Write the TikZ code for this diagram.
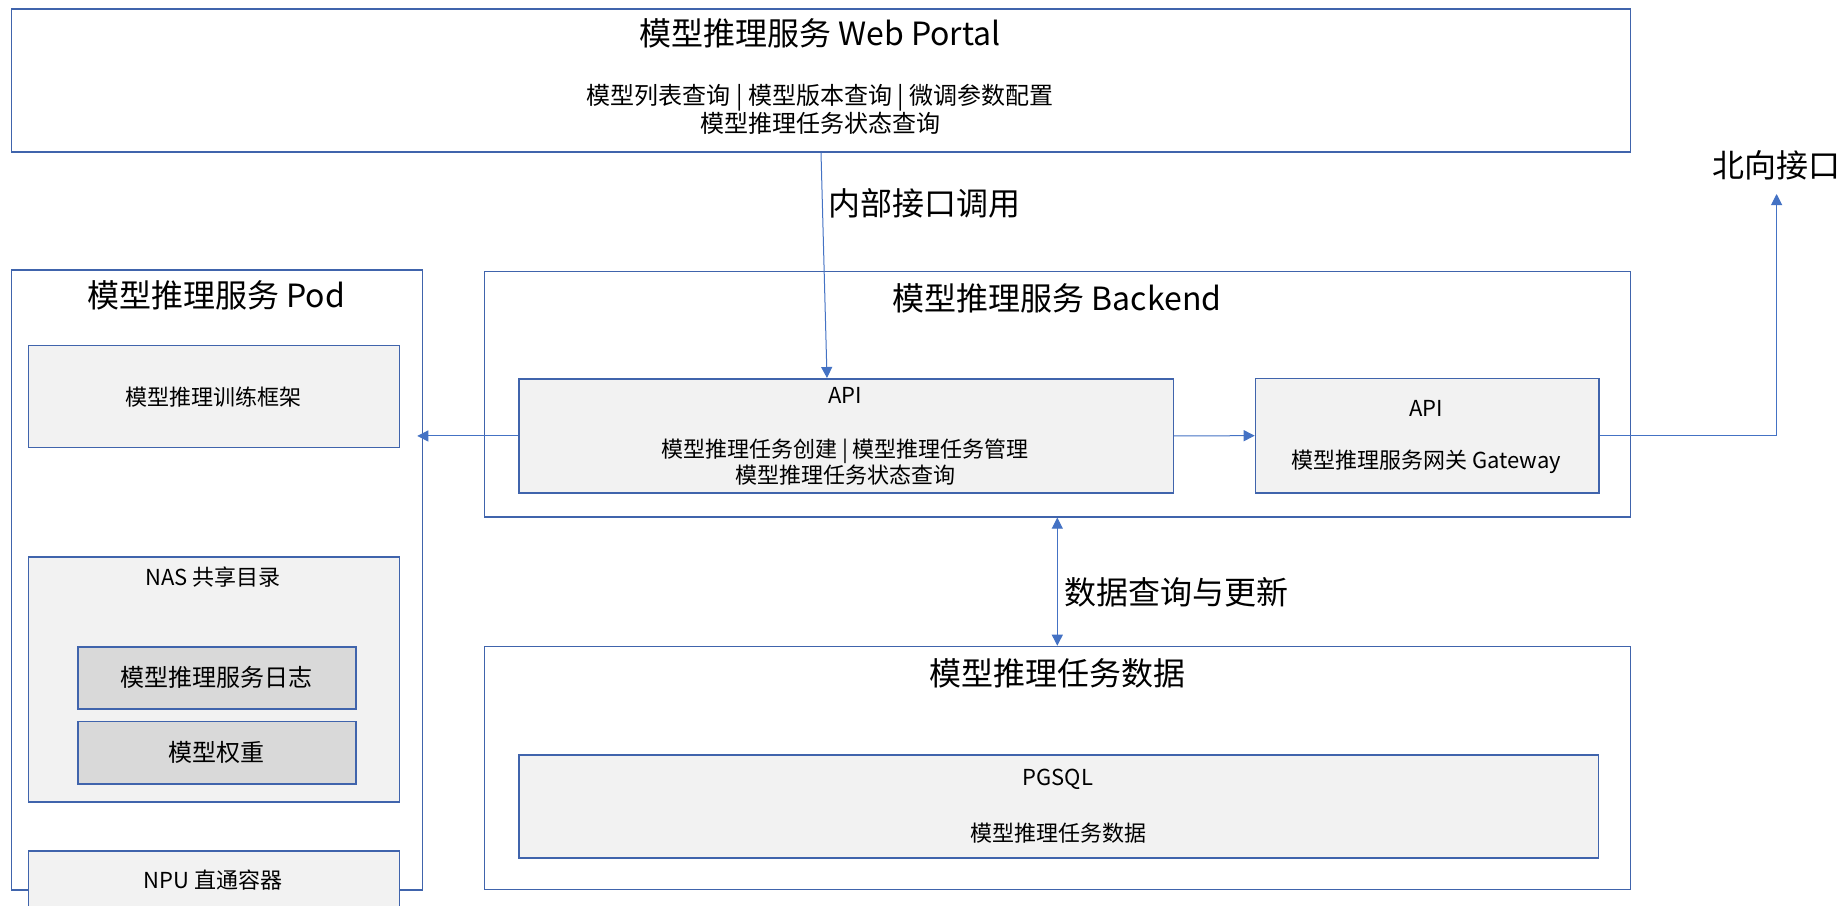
\documentclass[tikz,border=0pt]{standalone}
\usepackage{fontspec}
\setmainfont{Noto Sans CJK SC}
\usetikzlibrary{arrows.meta}
\definecolor{boxblue}{RGB}{64,100,172}
\definecolor{linkblue}{RGB}{68,114,196}
\definecolor{lightfill}{RGB}{242,242,242}
\definecolor{darkfill}{RGB}{217,217,217}
\tikzset{
  box/.style={draw=boxblue, line width=1.6pt, inner sep=0pt, anchor=north west, fill=white},
  ibox/.style={box, fill=lightfill},
  dbox/.style={box, fill=darkfill},
  tbig/.style={inner sep=0pt, font=\fontsize{32}{38}\selectfont, text=black},
  tmid/.style={inner sep=0pt, align=center, font=\fontsize{24}{28}\selectfont, text=black},
  tsmall/.style={inner sep=0pt, align=center, font=\fontsize{22}{26}\selectfont, text=black},
  conn/.style={draw=linkblue, line width=1pt, -{Triangle[length=11pt,width=11pt]}},
  dconn/.style={draw=linkblue, line width=1pt, {Triangle[length=11pt,width=11pt]}-{Triangle[length=11pt,width=11pt]}}
}
\begin{document}
\begin{tikzpicture}[x=1pt,y=-1pt]
\useasboundingbox (0,0) rectangle (1843,905);
\fill[white] (0,0) rectangle (1843,905);

% Web Portal
\node[box, minimum width=1619pt, minimum height=143pt] (portal) at (10.7,8) {};
\node[tbig] (portalT) at (820,33) {模型推理服务 Web Portal};
\node[tmid] (portalS) at (820,109) {模型列表查询 | 模型版本查询 | 微调参数配置\\模型推理任务状态查询};

% Pod
\node[box, minimum width=411pt, minimum height=620pt] (pod) at (10.7,269) {};
\node[tbig] (podT) at (216,295) {模型推理服务 Pod};
\node[ibox, minimum width=371pt, minimum height=102pt] (frame) at (27.7,344.7) {};
\node[tsmall] (frameT) at (213,397) {模型推理训练框架};
\node[ibox, minimum width=371pt, minimum height=245pt] (nas) at (27.7,556) {};
\node[tsmall] (nasT) at (213,577) {NAS 共享目录};
\node[dbox, minimum width=277.7pt, minimum height=62pt] (log) at (77.2,646) {};
\node[tmid] (logT) at (216,677) {模型推理服务日志};
\node[dbox, minimum width=277.7pt, minimum height=62.6pt] (weight) at (77.2,720.7) {};
\node[tmid] (weightT) at (216,752) {模型权重};
\node[ibox, minimum width=371pt, minimum height=90pt] (npu) at (27.7,850.3) {};
\node[tsmall] (npuT) at (213,880) {NPU 直通容器};

% Backend
\node[box, minimum width=1146pt, minimum height=245.3pt] (backend) at (483.5,270.7) {};
\node[tbig] (backendT) at (1057,298) {模型推理服务 Backend};
\node[ibox, minimum width=654.6pt, minimum height=114.3pt] (api) at (517.9,378) {};
\node[tsmall] (apiT) at (845,395) {API};
\node[tsmall] (apiS) at (845,462) {模型推理任务创建 | 模型推理任务管理\\模型推理任务状态查询};
\node[ibox, minimum width=343.3pt, minimum height=114.3pt] (gw) at (1254.7,377.7) {};
\node[tsmall] (gwT) at (1426,408) {API};
\node[tsmall] (gwS) at (1426,462) {模型推理服务网关 Gateway};

% Data
\node[box, minimum width=1146pt, minimum height=243pt] (data) at (483.5,645.7) {};
\node[tbig] (dataT) at (1057,673) {模型推理任务数据};
\node[ibox, minimum width=1079.7pt, minimum height=103.3pt] (pg) at (518,754) {};
\node[tsmall] (pgT) at (1058,779) {PGSQL};
\node[tsmall] (pgS) at (1058,833) {模型推理任务数据};

% labels
\node[tbig, anchor=west] (callL) at (828,203) {内部接口调用};
\node[tbig, anchor=west] (dbL) at (1064,592) {数据查询与更新};
\node[tbig, anchor=west] (nb) at (1712,165) {北向接口};
\coordinate (nbin) at (1776.6,194);

% connectors
\draw[conn] (portal.south) -- ([xshift=6pt]portal.south |- api.north);
\draw[conn] (api.west) -- ([xshift=-6pt]pod.east |- api.west);
\draw[conn] (api.east) -- (gw.west);
\draw[conn] (gw.east) -| (nbin);
\draw[dconn] (backend.south) -- (data.north);
\end{tikzpicture}
\end{document}
